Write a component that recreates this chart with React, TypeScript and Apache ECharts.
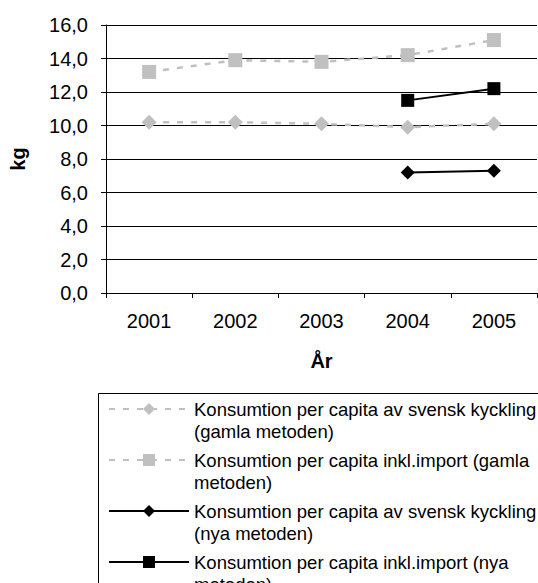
import React, { useEffect, useRef } from "react";
import * as echarts from "echarts";

const years = ["2001", "2002", "2003", "2004", "2005"];
const svenskGamla = [10.2, 10.2, 10.1, 9.9, 10.1];
const importGamla = [13.2, 13.9, 13.8, 14.2, 15.1];
const svenskNya = [null, null, null, 7.2, 7.3];
const importNya = [null, null, null, 11.5, 12.2];
const seriesNames = [
  "Konsumtion per capita av svensk kyckling (gamla metoden)",
  "Konsumtion per capita inkl.import (gamla metoden)",
  "Konsumtion per capita av svensk kyckling (nya metoden)",
  "Konsumtion per capita inkl.import (nya metoden)",
];
const legendLabels: Record<string, string> = {
  [seriesNames[0]]: "Konsumtion per capita av svensk kyckling\n(gamla metoden)",
  [seriesNames[1]]: "Konsumtion per capita inkl.import (gamla\nmetoden)",
  [seriesNames[2]]: "Konsumtion per capita av svensk kyckling\n(nya metoden)",
  [seriesNames[3]]: "Konsumtion per capita inkl.import (nya\nmetoden)",
};

const FONT = "Liberation Sans, Arial, sans-serif";
const GRAY = "#c0c0c0";

export default function App() {
  const ref = useRef<HTMLDivElement>(null);
  useEffect(() => {
    if (!ref.current) return;
    const chart = echarts.init(ref.current, null, { renderer: "svg" });
    const grayLine = { color: GRAY, width: 2.5, type: [6, 8] as number[] };
    const blackLine = { color: "#000", width: 2 };
    chart.setOption({
      animation: false,
      backgroundColor: "#fff",
      textStyle: { fontFamily: FONT },
      grid: { left: 101, right: 1, top: 25, height: 268, containLabel: false },
      xAxis: {
        type: "category",
        data: years,
        boundaryGap: true,
        name: "År",
        nameLocation: "middle",
        nameGap: 58,
        nameTextStyle: { fontFamily: FONT, fontSize: 20, fontWeight: "bold", color: "#000" },
        axisLine: { lineStyle: { color: "#000", width: 1 } },
        axisTick: { show: true, length: 5, alignWithLabel: false, interval: 0, lineStyle: { color: "#000" } },
        axisLabel: { fontFamily: FONT, fontSize: 20, color: "#000", margin: 18, interval: 0 },
        splitLine: { show: false },
      },
      yAxis: {
        type: "value",
        min: 0,
        max: 16,
        interval: 2,
        name: "kg",
        nameLocation: "middle",
        nameRotate: 90,
        nameGap: 78,
        nameTextStyle: { fontFamily: FONT, fontSize: 20, fontWeight: "bold", color: "#000" },
        axisLine: { show: true, lineStyle: { color: "#000", width: 1 } },
        axisTick: { show: true, length: 5, lineStyle: { color: "#000" } },
        axisLabel: {
          fontFamily: FONT,
          fontSize: 20,
          color: "#000",
          margin: 18,
          formatter: (v: number) => v.toFixed(1).replace(".", ","),
        },
        splitLine: { show: true, lineStyle: { color: "#000", width: 1 } },
      },
      legend: {
        orient: "vertical",
        left: 108,
        top: 376,
        padding: 0,
        itemWidth: 80,
        itemHeight: 15,
        itemGap: -15,
        data: seriesNames,
        formatter: (name: string) => " \n" + (legendLabels[name] || name),
        textStyle: {
          fontFamily: FONT,
          fontSize: 18.5,
          color: "#000",
          lineHeight: 22,
        },
      },
      graphic: [
        {
          type: "rect",
          left: 96,
          top: 391,
          shape: { width: 500, height: 300 },
          style: { fill: "none", stroke: "#000", lineWidth: 1 },
          silent: true,
        },
      ],
      series: [
        {
          name: seriesNames[0],
          type: "line",
          data: svenskGamla,
          symbol: "diamond",
          symbolSize: 15,
          itemStyle: { color: GRAY },
          lineStyle: grayLine,
        },
        {
          name: seriesNames[1],
          type: "line",
          data: importGamla,
          symbol: "rect",
          symbolSize: 14,
          itemStyle: { color: GRAY },
          lineStyle: grayLine,
        },
        {
          name: seriesNames[2],
          type: "line",
          data: svenskNya,
          symbol: "diamond",
          symbolSize: 14,
          itemStyle: { color: "#000" },
          lineStyle: blackLine,
        },
        {
          name: seriesNames[3],
          type: "line",
          data: importNya,
          symbol: "rect",
          symbolSize: 13,
          itemStyle: { color: "#000" },
          lineStyle: blackLine,
        },
      ],
    });
    return () => chart.dispose();
  }, []);
  return (
    <div style={{ position: "absolute", left: 0, top: 0, width: 538, height: 583, overflow: "hidden" }}>
      <div ref={ref} style={{ width: 538, height: 720 }} />
    </div>
  );
}
